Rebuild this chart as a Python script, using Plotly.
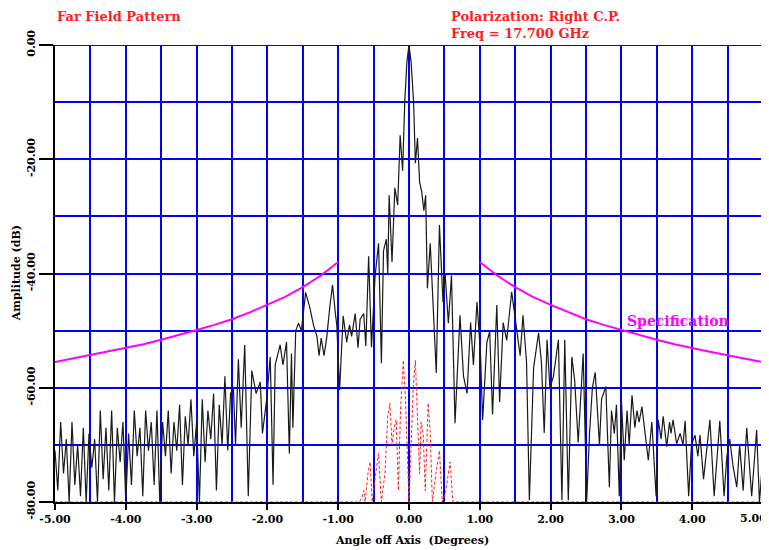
import numpy as np
import plotly.graph_objects as go

# ---------------- data ----------------
# co-polar pattern, outer left part (sampled every 0.04 deg)
left_ang = np.round(np.linspace(-5.00, -2.52, 63), 3)
left_db = [-71, -78, -66, -75, -69, -80, -66, -77, -70, -79,
           -67, -80, -68, -74, -69, -80, -64, -76, -67, -78,
           -64, -80, -67, -73, -66, -80, -68, -77, -64, -72,
           -67, -79, -64, -71, -66, -77, -64, -80, -66, -72,
           -64, -75, -66, -71, -63, -77, -65, -70, -62, -72,
           -66, -80, -62, -73, -64, -69, -61, -78, -63, -70,
           -58, -71, -61]

# co-polar pattern, central part
center_ang = [-2.48, -2.45, -2.41, -2.37, -2.32, -2.27, -2.22, -2.16, -2.10, -2.07,
              -2.01, -1.96, -1.92, -1.89, -1.82, -1.78, -1.73, -1.69, -1.66, -1.64,
              -1.60, -1.56, -1.52, -1.46, -1.40, -1.35, -1.30, -1.27, -1.24, -1.20,
              -1.16, -1.12, -1.08, -1.04, -1.02, -0.98, -0.93, -0.88, -0.84, -0.81,
              -0.76, -0.72, -0.69, -0.64, -0.61, -0.57, -0.53, -0.48, -0.43, -0.39,
              -0.36, -0.32, -0.30, -0.28, -0.24, -0.20, -0.16, -0.125, -0.09, -0.06,
              -0.03, 0.0, 0.03, 0.065, 0.09, 0.12, 0.15, 0.18, 0.21, 0.235,
              0.26, 0.30, 0.34, 0.385, 0.43, 0.48, 0.51, 0.556, 0.60, 0.65,
              0.72, 0.77, 0.82, 0.87, 0.91, 0.96, 1.01, 1.04, 1.10, 1.14,
              1.18, 1.24, 1.28, 1.33, 1.38, 1.45, 1.52, 1.57, 1.61, 1.66,
              1.70, 1.76, 1.83, 1.87, 1.91, 1.95, 1.99, 2.04, 2.11, 2.16,
              2.20, 2.25, 2.30, 2.34, 2.39, 2.46, 2.51, 2.55, 2.59, 2.63,
              2.69]
center_db = [-60, -70, -55, -67, -52.5, -79, -57, -61, -59, -68,
             -62, -54.6, -77, -56, -52.5, -56, -52, -71.5, -54, -67,
             -50, -48.7, -50, -43.3, -46, -49, -51, -54.4, -51.3, -54.4,
             -51, -46, -42, -47, -49, -60.4, -47.4, -52, -49, -51,
             -47, -53, -48, -47, -52.7, -37, -52.9, -40.6, -34.7, -55.7,
             -36, -34, -40, -26.3, -38, -25, -28, -15.8, -22, -10,
             -3, 0, -3, -10, -20.7, -16.3, -24, -25.7, -29, -26.3,
             -42.6, -34.7, -45, -57.4, -31.5, -45, -40, -48.7, -40.3, -66.2,
             -47.3, -58, -61, -48.6, -56, -45, -54, -65.7, -52, -50.2,
             -64.7, -45.5, -62.5, -48.6, -51.7, -43.2, -49.7, -54.4, -47.3, -55.5,
             -79.7, -56.5, -50.4, -55.5, -67.9, -51.6, -60, -58, -51.6, -79.7,
             -51.6, -79.7, -54.6, -58.7, -69.6, -54, -79.7, -68, -60, -57.3,
             -70]

# co-polar pattern, outer right part
right_ang = [2.72, 2.78, 2.83, 2.86, 2.90, 2.93, 2.97, 3.00, 3.04, 3.08,
             3.11, 3.15, 3.19, 3.22, 3.25, 3.29, 3.34, 3.38, 3.43, 3.49,
             3.52, 3.56, 3.59, 3.64, 3.68, 3.70, 3.73, 3.78, 3.83, 3.87,
             3.90, 3.95, 3.99, 4.04, 4.08, 4.11, 4.16, 4.21, 4.25, 4.31,
             4.35, 4.39, 4.45, 4.49, 4.53, 4.58, 4.63, 4.67, 4.72, 4.77,
             4.84, 4.88, 4.91, 4.95, 4.98, 5.00]
right_db = [-62, -59.8, -77.4, -64, -68, -63, -79, -62, -72.7, -64,
            -70, -61.3, -67, -64, -66, -63.3, -68, -72.7, -66, -79,
            -65.6, -69, -65, -70.3, -66, -68, -65.6, -69.8, -68, -70,
            -65.8, -79, -70, -68.3, -72, -68.3, -76, -70, -65.6, -79,
            -72, -65.8, -79, -72, -69, -74, -77.4, -70, -78, -67,
            -79, -72, -67.4, -80, -74.4, -72]

# cross-polar pattern (red dashed)
xpol_ang = [-5.0, -0.70, -0.66, -0.64, -0.62, -0.58, -0.55, -0.52, -0.47, -0.43,
            -0.39, -0.34, -0.30, -0.27, -0.24, -0.21, -0.18, -0.15, -0.12, -0.08,
            -0.05, -0.02, 0.0, 0.03, 0.06, 0.09, 0.12, 0.15, 0.17, 0.20,
            0.23, 0.27, 0.30, 0.33, 0.38, 0.43, 0.47, 0.52, 0.58, 0.62,
            0.66, 5.0]
xpol_db = [-80, -80, -79, -78, -80, -75, -73, -80, -75, -71.5,
           -80, -75, -65, -62.7, -70, -67, -65.6, -78, -64, -55.2,
           -62, -75, -80, -70, -60, -55.2, -64, -75, -66, -68,
           -78, -62.7, -68, -80, -75, -71, -80, -78, -73, -80,
           -80, -80]

# specification mask (two branches)
spec_left_ang = [-5.0, -4.75, -4.5, -4.25, -4.0, -3.75, -3.5, -3.25, -3.0,
                 -2.75, -2.5, -2.25, -2.0, -1.75, -1.5, -1.25, -1.0]
spec_left_db = [-55.5, -54.9, -54.3, -53.7, -53.1, -52.4, -51.6, -50.8, -49.9,
                -49.0, -48.0, -46.8, -45.5, -44.1, -42.4, -40.4, -38.0]
spec_right_ang = [1.0, 1.25, 1.5, 1.75, 2.0, 2.25, 2.5, 2.75, 3.0,
                  3.25, 3.5, 3.75, 4.0, 4.25, 4.5, 4.75, 5.0]
spec_right_db = [-38.0, -40.4, -42.4, -44.1, -45.5, -46.8, -48.0, -49.0, -49.9,
                 -50.8, -51.6, -52.4, -53.1, -53.7, -54.3, -54.9, -55.5]

x_tick_vals = [-5, -4, -3, -2, -1, 0, 1, 2, 3, 4, 5]
x_tick_text = ["-5.00", "-4.00", "-3.00", "-2.00", "-1.00", "0.00",
               "1.00", "2.00", "3.00", "4.00", "5.00"]
x_minor_vals = [-4.5, -3.5, -2.5, -1.5, -0.5, 0.5, 1.5, 2.5, 3.5, 4.5]
y_tick_vals = [0, -20, -40, -60, -80]
y_tick_text = ["0.00", "-20.00", "-40.00", "-60.00", "-80.00"]
y_minor_vals = [-10, -30, -50, -70]

# ---------------- figure ----------------
BLUE = "#0000FF"
SERIF = "DejaVu Serif"

copol_ang = list(left_ang) + center_ang + right_ang
copol_db = list(left_db) + center_db + right_db

fig = go.Figure()
fig.add_trace(go.Scatter(x=spec_left_ang, y=spec_left_db, mode="lines",
                         line=dict(color="#FF00FF", width=2), hoverinfo="skip"))
fig.add_trace(go.Scatter(x=spec_right_ang, y=spec_right_db, mode="lines",
                         line=dict(color="#FF00FF", width=2), hoverinfo="skip"))
fig.add_trace(go.Scatter(x=copol_ang, y=copol_db, mode="lines",
                         line=dict(color="#1a1a1a", width=1.2), hoverinfo="skip"))
fig.add_trace(go.Scatter(x=xpol_ang, y=xpol_db, mode="lines",
                         line=dict(color="#FF2020", width=1, dash="3px,2px"),
                         hoverinfo="skip"))

# blue frame lines on the top and right edges (grid border)
fig.add_shape(type="line", xref="x", yref="y", x0=-5, x1=5, y0=0, y1=0,
              line=dict(color=BLUE, width=2), layer="below")
fig.add_shape(type="line", xref="x", yref="y", x0=5, x1=5, y0=-80, y1=0,
              line=dict(color=BLUE, width=2), layer="below")

tickfont = dict(family=SERIF, size=11, color="black", weight="bold")

# last x label sits on the page edge: drawn as a right-aligned annotation instead
x_axis_text = x_tick_text[:-1] + [""]

fig.update_xaxes(range=[-5, 5], tickvals=x_tick_vals, ticktext=x_axis_text,
                 showgrid=True, gridcolor=BLUE, gridwidth=2,
                 minor=dict(tickvals=x_minor_vals, showgrid=True, gridcolor=BLUE,
                            gridwidth=2, ticks=""),
                 showline=True, linecolor="black", linewidth=2,
                 ticks="outside", ticklen=6, tickwidth=2, tickcolor="black",
                 ticklabeloverflow="allow", automargin=False, layer="below traces",
                 zeroline=False, tickfont=tickfont, fixedrange=True)
fig.update_yaxes(range=[-80, 0], tickvals=y_tick_vals, ticktext=y_tick_text,
                 tickangle=-90,
                 showgrid=True, gridcolor=BLUE, gridwidth=2,
                 minor=dict(tickvals=y_minor_vals, showgrid=True, gridcolor=BLUE,
                            gridwidth=2, ticks=""),
                 showline=True, linecolor="black", linewidth=2,
                 ticks="outside", ticklen=14, tickwidth=2, tickcolor="black",
                 ticklabeloverflow="allow", automargin=False,
                 zeroline=False, tickfont=tickfont, fixedrange=True)

red_font = dict(family=SERIF, size=13, color="#FF2020", weight="bold")
annos = [
    dict(text="Far Field Pattern", x=0.0, y=1.062, xanchor="left", yanchor="middle",
         font=red_font),
    dict(text="Polarization: Right C.P.", x=0.556, y=1.062, xanchor="left",
         yanchor="middle", font=red_font),
    dict(text="Freq = 17.700 GHz", x=0.556, y=1.026, xanchor="left",
         yanchor="middle", font=red_font),
    dict(text="Angle off Axis \u00a0(Degrees)", x=0.504, y=-0.085, xanchor="center",
         yanchor="middle", font=dict(family=SERIF, size=11, color="black", weight="bold")),
    dict(text="Amplitude (dB)", x=-0.054, y=0.50, xanchor="center", yanchor="middle",
         textangle=-90,
         font=dict(family=SERIF, size=11, color="black", weight="bold")),
    dict(text=x_tick_text[-1], x=1.0085, y=-0.037, xanchor="right", yanchor="middle",
         font=tickfont),
]
for a in annos:
    a.update(xref="paper", yref="paper", showarrow=False)
    fig.add_annotation(**a)
fig.add_annotation(text="Specification", x=3.80, y=-48.4, xref="x", yref="y",
                   showarrow=False, xanchor="center", yanchor="middle",
                   font=dict(family=SERIF, size=14, color="#FF00FF", weight="bold"))

# page body has an 8px default margin, so the figure is sized to fit
fig.update_layout(width=761, height=542, showlegend=False,
                  margin=dict(l=47, r=6, t=37, b=48, autoexpand=False),
                  paper_bgcolor="white", plot_bgcolor="white")

fig.write_html("out.html", config={"displayModeBar": False})
